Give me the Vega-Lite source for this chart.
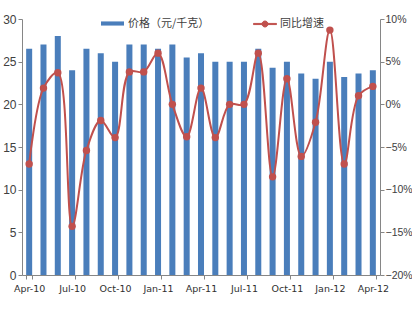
{
  "$schema": "https://vega.github.io/schema/vega-lite/v6.json",
  "width": 358,
  "height": 256,
  "autosize": "none",
  "padding": {"left": 22, "top": 19, "right": 32, "bottom": 43},
  "background": "white",
  "config": {
    "view": {"stroke": null},
    "axis": {
      "labelFont": "Liberation Sans",
      "labelColor": "#404040",
      "domainColor": "#868686",
      "tickColor": "#868686",
      "grid": false,
      "ticks": true,
      "tickSize": 4,
      "title": null
    },
    "legend": {"labelFont": "Noto Sans CJK SC", "labelFontSize": 11, "labelColor": "#404040"}
  },
  "data": {
    "values": [
      {"month": "Apr-10", "price": 26.5, "yoy": -0.070},
      {"month": "May-10", "price": 27.0, "yoy": 0.019},
      {"month": "Jun-10", "price": 28.0, "yoy": 0.037},
      {"month": "Jul-10", "price": 24.0, "yoy": -0.143},
      {"month": "Aug-10", "price": 26.5, "yoy": -0.054},
      {"month": "Sep-10", "price": 26.0, "yoy": -0.019},
      {"month": "Oct-10", "price": 25.0, "yoy": -0.039},
      {"month": "Nov-10", "price": 27.0, "yoy": 0.038},
      {"month": "Dec-10", "price": 27.0, "yoy": 0.038},
      {"month": "Jan-11", "price": 26.5, "yoy": 0.060},
      {"month": "Feb-11", "price": 27.0, "yoy": 0.000},
      {"month": "Mar-11", "price": 25.5, "yoy": -0.038},
      {"month": "Apr-11", "price": 26.0, "yoy": 0.019},
      {"month": "May-11", "price": 25.0, "yoy": -0.039},
      {"month": "Jun-11", "price": 25.0, "yoy": 0.000},
      {"month": "Jul-11", "price": 25.0, "yoy": 0.000},
      {"month": "Aug-11", "price": 26.5, "yoy": 0.060},
      {"month": "Sep-11", "price": 24.3, "yoy": -0.085},
      {"month": "Oct-11", "price": 25.0, "yoy": 0.030},
      {"month": "Nov-11", "price": 23.6, "yoy": -0.061},
      {"month": "Dec-11", "price": 23.0, "yoy": -0.021},
      {"month": "Jan-12", "price": 25.0, "yoy": 0.087},
      {"month": "Feb-12", "price": 23.2, "yoy": -0.070},
      {"month": "Mar-12", "price": 23.6, "yoy": 0.010},
      {"month": "Apr-12", "price": 24.0, "yoy": 0.021}
    ]
  },
  "encoding": {
    "x": {
      "field": "month",
      "type": "ordinal",
      "sort": null,
      "scale": {"paddingInner": 0.58, "paddingOuter": 0.29},
      "axis": {
        "labelAngle": 0,
        "values": ["Apr-10", "Jul-10", "Oct-10", "Jan-11", "Apr-11", "Jul-11", "Oct-11", "Jan-12", "Apr-12"],
        "tickBand": "extent",
        "labelFont": "DejaVu Sans",
        "labelFontSize": 9.5,
        "labelColor": "#303030",
        "labelPadding": 4
      }
    }
  },
  "layer": [
    {
      "mark": {"type": "bar"},
      "encoding": {
        "y": {
          "field": "price",
          "type": "quantitative",
          "scale": {"domain": [0, 30]},
          "axis": {"values": [0, 5, 10, 15, 20, 25, 30], "labelFontSize": 12}
        },
        "fill": {
          "datum": "价格（元/千克）",
          "type": "nominal",
          "scale": {"range": ["#4a7ebb"]},
          "legend": {
            "title": null,
            "orient": "none",
            "legendX": 79,
            "legendY": -7,
            "symbolType": "M-1,-0.18H1V0.18H-1Z",
            "symbolSize": 529,
            "symbolStrokeWidth": 0,
            "labelOffset": 4
          }
        }
      }
    },
    {
      "encoding": {
        "y": {
          "field": "yoy",
          "type": "quantitative",
          "scale": {"domain": [-0.2, 0.1]},
          "axis": {
            "orient": "right",
            "format": ".0%",
            "values": [-0.2, -0.15, -0.1, -0.05, 0, 0.05, 0.1],
            "labelFontSize": 10.5,
            "labelPadding": 1
          }
        }
      },
      "layer": [
        {
          "mark": {"type": "line", "interpolate": "catmull-rom", "strokeWidth": 2},
          "encoding": {
            "stroke": {
              "datum": "同比增速",
              "type": "nominal",
              "scale": {"range": ["#c0504d"]},
              "legend": {
                "title": null,
                "orient": "none",
                "legendX": 231,
                "legendY": -7,
                "symbolType": "M-1,-0.05H1V0.05H-1Z M0.26,0 A0.26,0.26 0 1,1 -0.26,0 A0.26,0.26 0 1,1 0.26,0Z",
                "symbolSize": 529,
                "symbolStrokeWidth": 1,
                "labelOffset": 3,
                "encode": {"symbols": {"update": {"fill": {"value": "#c0504d"}, "stroke": {"value": "#c0504d"}}}}
              }
            }
          }
        },
        {
          "mark": {"type": "point", "filled": true, "size": 55, "color": "#c0504d", "opacity": 1}
        }
      ]
    }
  ],
  "resolve": {"scale": {"y": "independent", "fill": "independent", "stroke": "independent"}}
}
